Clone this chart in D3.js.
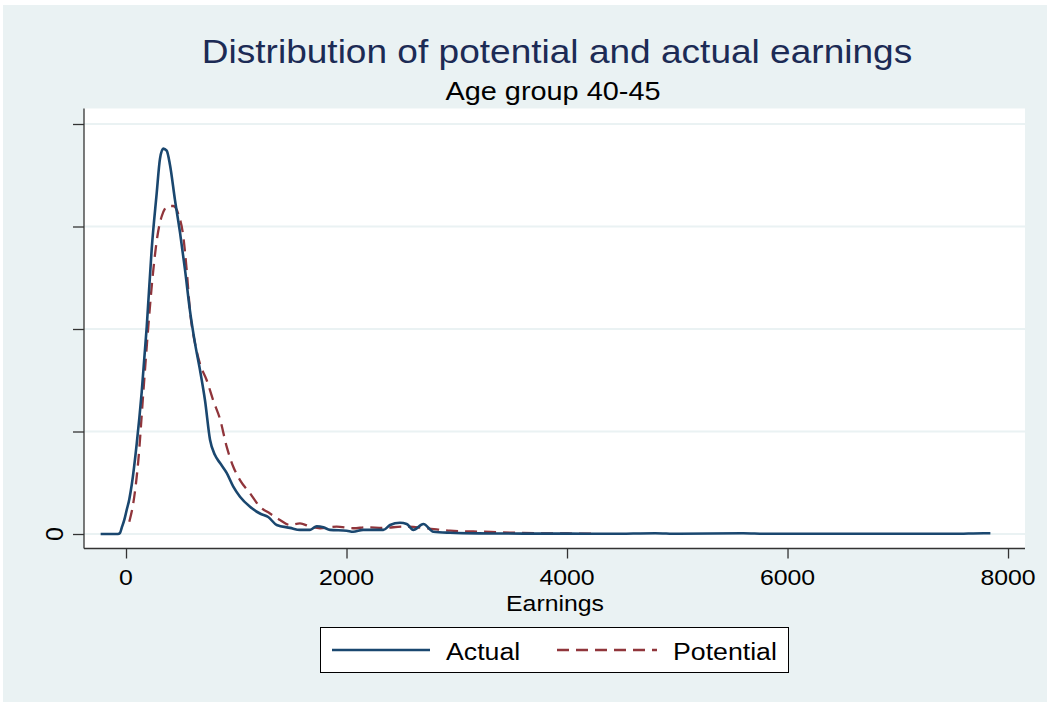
<!DOCTYPE html>
<html>
<head>
<meta charset="utf-8">
<script src="https://cdn.jsdelivr.net/npm/d3@7"></script>
<style>
  body { margin: 0; background: #fff; }
  text { font-family: 'Liberation Sans', Arial, sans-serif; }
</style>
</head>
<body>
<div id="chart"></div>
<script>
// kernel density of earnings
const actualX = [-230, -73, -55, -39, -15, 6, 30, 52, 97, 142, 188, 233, 278, 308, 338, 369, 399, 444, 490, 535, 580, 626, 671, 717, 762, 807, 853, 913, 973, 1034, 1125, 1215, 1290, 1367, 1488, 1578, 1669, 1730, 1790, 1850, 2002, 2060, 2151, 2334, 2395, 2485, 2546, 2606, 2697, 2788, 2939, 3200, 3600, 4000, 4400, 4800, 5000, 5600, 5800, 6500, 7500, 7780, 7840];
const actualY = [0, 0, 0.000005, 0.00003, 0.00007, 0.000117, 0.00017, 0.00024, 0.00044, 0.00069, 0.00101, 0.00139, 0.00166, 0.00183, 0.00188, 0.00187, 0.0018, 0.00163, 0.00147, 0.00129, 0.00109, 0.00093, 0.0008, 0.00065, 0.00046, 0.000385, 0.000346, 0.000298, 0.000231, 0.000182, 0.000133, 0.0001, 0.000083, 0.000044, 0.00003, 0.00002, 0.00002, 0.000038, 0.000033, 0.00002, 0.000016, 0.000011, 0.00002, 0.00002, 0.000044, 0.000055, 0.000049, 0.00002, 0.000049, 0.000011, 0.000006, 0.000003, 0.000002, 0.000002, 0.000001, 0.000004, 0.000001, 0.000004, 0.000001, 0.000001, 0.000001, 0.000004, 0.000004];

const potentialX = [30, 66, 112, 157, 202, 248, 284, 324, 384, 429, 475, 520, 550, 580, 626, 671, 732, 792, 853, 913, 973, 1034, 1125, 1215, 1306, 1397, 1488, 1578, 1669, 1760, 1911, 2062, 2183, 2334, 2515, 2727, 2939, 3241, 3544, 3846, 4236];
const potentialY = [0.00006, 0.00015, 0.00036, 0.00069, 0.00101, 0.00129, 0.00145, 0.00155, 0.0016, 0.0016, 0.00156, 0.00145, 0.00129, 0.00109, 0.00093, 0.00083, 0.00075, 0.00065, 0.00056, 0.000426, 0.000328, 0.000263, 0.000199, 0.000133, 0.0001, 0.000068, 0.000044, 0.000052, 0.000036, 0.000028, 0.000036, 0.000028, 0.000033, 0.00003, 0.000036, 0.000028, 0.000016, 0.000011, 0.000006, 0.000003, 0.000002];

const xTicks = [0, 2000, 4000, 6000, 8000];
const yTicks = [0, 0.0005, 0.001, 0.0015, 0.002];
const yTickLabels = ['0', '', '', '', ''];
const seriesNames = ['Actual', 'Potential'];

const W = 1047, H = 702;
const plot = { left: 84, right: 1025, top: 108.5, bottom: 548.5 };
const stretch = 1.09; // text in the picture is a bit wider than tall

const svg = d3.select('#chart')
  .append('svg')
  .attr('width', W)
  .attr('height', H);

svg.append('rect')
  .attr('x', 3).attr('y', 5)
  .attr('width', W - 3).attr('height', H - 5)
  .attr('fill', '#eaf2f3');

svg.append('rect')
  .attr('x', plot.left).attr('y', plot.top)
  .attr('width', plot.right - plot.left)
  .attr('height', plot.bottom - plot.top)
  .attr('fill', '#fff');

const x = d3.scaleLinear().domain([-381, 8154]).range([plot.left, plot.right]);
const y = d3.scaleLinear().domain([-0.0000707, 0.0020756]).range([plot.bottom, plot.top]);

// text helper, stretched horizontally
function label(tx, ty, str, size, opts = {}) {
  return svg.append('text')
    .attr('transform', `translate(${tx},${ty}) ${opts.rotate ? 'rotate(' + opts.rotate + ')' : ''} scale(${stretch},1)`)
    .attr('text-anchor', opts.anchor || 'middle')
    .attr('font-size', size)
    .attr('fill', opts.fill || '#000')
    .text(str);
}

// gridlines
svg.append('g')
  .selectAll('line')
  .data(yTicks)
  .enter()
  .append('line')
  .attr('x1', plot.left).attr('x2', plot.right)
  .attr('y1', d => y(d)).attr('y2', d => y(d))
  .attr('stroke', '#eaf2f3')
  .attr('stroke-width', 2);

// axes
const yAxis = svg.append('g')
  .attr('transform', `translate(${plot.left},0)`)
  .call(d3.axisLeft(y).tickValues(yTicks).tickSize(11).tickFormat(() => ''));
yAxis.select('.domain').attr('d', `M0,${plot.top}V${plot.bottom}`);
yAxis.selectAll('line, path').attr('stroke', '#333').attr('stroke-width', 1.3);

const xAxis = svg.append('g')
  .attr('transform', `translate(0,${plot.bottom})`)
  .call(d3.axisBottom(x).tickValues(xTicks).tickSize(10).tickFormat(() => ''));
xAxis.select('.domain').attr('d', `M${plot.left},0H${plot.right}`);
xAxis.selectAll('line, path').attr('stroke', '#333').attr('stroke-width', 1.3);

xTicks.forEach(t => label(x(t), 584.5, String(t), 22.8));
yTicks.forEach((t, i) => {
  if (yTickLabels[i]) label(63, y(t), yTickLabels[i], 23, { rotate: -90 });
});

// curves
const line = d3.line()
  .x(d => x(d[0]))
  .y(d => y(d[1]))
  .curve(d3.curveMonotoneX);

svg.append('path')
  .datum(potentialX.map((v, i) => [v, potentialY[i]]))
  .attr('d', line)
  .attr('fill', 'none')
  .attr('stroke', '#90353b')
  .attr('stroke-width', 2.3)
  .attr('stroke-dasharray', '12,7');

svg.append('path')
  .datum(actualX.map((v, i) => [v, actualY[i]]))
  .attr('d', line)
  .attr('fill', 'none')
  .attr('stroke', '#1a476f')
  .attr('stroke-width', 2.6);

// titles
label(557, 63, 'Distribution of potential and actual earnings', 34, { fill: '#1c2b55' });
label(553, 100, 'Age group 40-45', 26.5);
label(555, 610.5, 'Earnings', 22.8);

// legend
svg.append('rect')
  .attr('x', 320.5).attr('y', 627.5)
  .attr('width', 468).attr('height', 45)
  .attr('fill', '#fff')
  .attr('stroke', '#000')
  .attr('stroke-width', 1);

const legendItems = [
  { x1: 332, x2: 430, tx: 446, color: '#1a476f', dash: null, w: 2.6 },
  { x1: 557, x2: 657, tx: 673, color: '#90353b', dash: '12,7', w: 2.3 }
];
legendItems.forEach((d, i) => {
  svg.append('line')
    .attr('x1', d.x1).attr('x2', d.x2)
    .attr('y1', 650).attr('y2', 650)
    .attr('stroke', d.color)
    .attr('stroke-width', d.w)
    .attr('stroke-dasharray', d.dash);
  label(d.tx, 660, seriesNames[i], 24.5, { anchor: 'start' });
});
</script>
</body>
</html>
